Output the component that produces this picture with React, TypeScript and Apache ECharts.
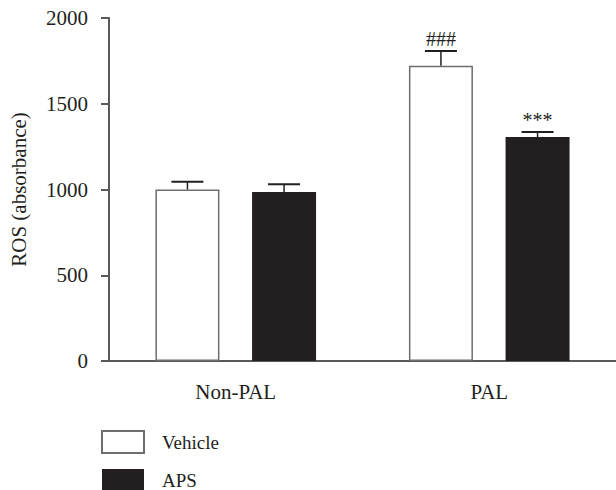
import React, { useEffect, useRef } from "react";
import * as echarts from "echarts";

const categories = ["Non-PAL", "PAL"];
const vehicleValues = [1000, 1722];
const vehicleErrTop = [1045, 1808];
const vehicleMarks = ["", "###"];
const apsValues = [985, 1306];
const apsErrTop = [1030, 1335];
const apsMarks = ["", "***"];
const yTicks = { min: 0, max: 2000, interval: 500 };

const FONT = "Liberation Serif";
const TEXT = "#231f20";
const AXIS = "#58595b";
const BAR_W = 64;
const GAP = 0.51;
const FS = 21;

function errSeries(name: string, vals: number[], tops: number[], marks: string[], side: number) {
  return {
    type: "custom",
    name: name + "-err",
    silent: true,
    z: 5,
    data: vals.map((v, i) => [i, tops[i], v]),
    renderItem: (params: any, api: any) => {
      const i = api.value(0);
      const top = api.coord([i, api.value(1)]);
      const base = api.coord([i, api.value(2)]);
      const mark = marks[params.dataIndex];
      const offset = side * (BAR_W + BAR_W * GAP) / 2;
      const x = top[0] + offset;
      const children: any[] = [
        { type: "line", shape: { x1: x, y1: base[1], x2: x, y2: top[1] }, style: { stroke: TEXT, lineWidth: 1.5 } },
        { type: "line", shape: { x1: x - 16, y1: top[1], x2: x + 16, y2: top[1] }, style: { stroke: TEXT, lineWidth: 2 } },
      ];
      if (mark) {
        children.push({
          type: "text",
          style: { text: mark, x, y: top[1] - 2, align: "center", verticalAlign: "bottom", fill: TEXT, font: `20px "${FONT}"` },
        });
      }
      return { type: "group", children };
    },
  };
}

export default function App() {
  const ref = useRef<HTMLDivElement>(null);
  useEffect(() => {
    const chart = echarts.init(ref.current!, null, { renderer: "svg" });
    chart.setOption({
      animation: false,
      backgroundColor: "#ffffff",
      textStyle: { fontFamily: FONT, color: TEXT },
      grid: { left: 100, top: 18, width: 520, height: 343, containLabel: false },
      legend: {
        orient: "vertical",
        left: 101,
        top: 430,
        height: 80,
        padding: 0,
        itemWidth: 42,
        itemHeight: 22,
        itemGap: 15,
        icon: "rect",
        data: ["Vehicle", "APS"],
        textStyle: { fontFamily: FONT, fontSize: 19, color: TEXT, padding: [0, 0, 0, 13] },
      },
      xAxis: {
        type: "category",
        data: categories,
        axisLine: { lineStyle: { color: AXIS, width: 2 } },
        axisTick: { alignWithLabel: true, length: 10, lineStyle: { color: AXIS, width: 2 } },
        axisLabel: { margin: 20, fontSize: FS, color: TEXT, fontFamily: FONT },
      },
      yAxis: {
        type: "value",
        min: yTicks.min,
        max: yTicks.max,
        interval: yTicks.interval,
        name: "ROS (absorbance)",
        nameLocation: "middle",
        nameGap: 80,
        nameTextStyle: { fontSize: FS, color: TEXT, fontFamily: FONT },
        splitLine: { show: false },
        axisLine: { show: true, lineStyle: { color: AXIS, width: 2 } },
        axisTick: { show: true, length: 8, lineStyle: { color: AXIS, width: 2 } },
        axisLabel: { margin: 21, fontSize: FS, color: TEXT, fontFamily: FONT, formatter: (v: number) => String(v) },
      },
      series: [
        {
          type: "bar",
          name: "Vehicle",
          data: vehicleValues,
          barWidth: BAR_W,
          barGap: "51%",
          itemStyle: { color: "#ffffff", borderColor: "#6d6e71", borderWidth: 1.5 },
        },
        {
          type: "bar",
          name: "APS",
          data: apsValues,
          barWidth: BAR_W,
          barGap: "51%",
          itemStyle: { color: TEXT },
        },
        errSeries("Vehicle", vehicleValues, vehicleErrTop, vehicleMarks, -1),
        errSeries("APS", apsValues, apsErrTop, apsMarks, 1),
      ],
    });
    return () => chart.dispose();
  }, []);
  return <div ref={ref} style={{ position: "absolute", left: 0, top: 0, width: 616, height: 490 }} />;
}
